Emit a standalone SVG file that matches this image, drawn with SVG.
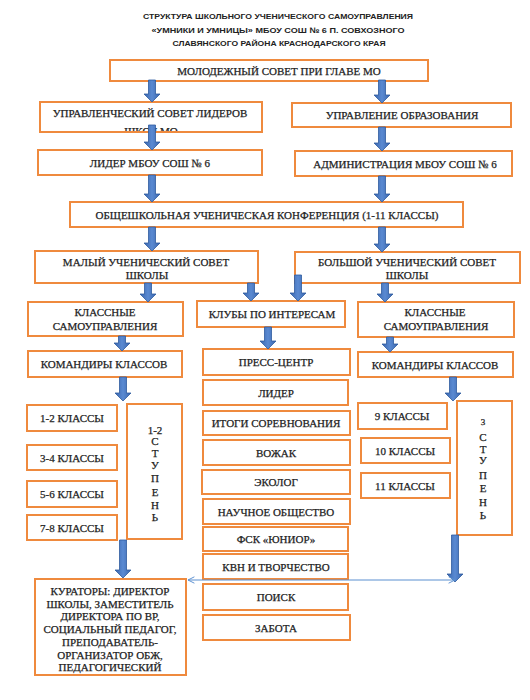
<svg xmlns="http://www.w3.org/2000/svg" width="530" height="700" viewBox="0 0 530 700">
<defs>
<style>
.b{fill:#fff;stroke:#EF8A3E;stroke-width:2}
.t{font-family:"Liberation Serif","Times New Roman",serif;font-size:11px;fill:#1e1e1e;stroke:#1e1e1e;stroke-width:0.25;text-anchor:middle}
.h{font-family:"Liberation Sans",Arial,sans-serif;font-size:8px;font-weight:bold;fill:#222;text-anchor:middle}
.a{fill:url(#ag);stroke:#2F5C9E;stroke-width:0.8}
.ln{stroke:#5B8FD0;stroke-width:1;fill:none}
</style>
<linearGradient id="ag" x1="0" y1="0" x2="1" y2="0">
<stop offset="0" stop-color="#3A66AE"/>
<stop offset="0.5" stop-color="#5A8AD2"/>
<stop offset="1" stop-color="#3A66AE"/>
</linearGradient>
<marker id="oa" viewBox="0 0 10 10" refX="9" refY="5" markerWidth="8" markerHeight="8" orient="auto-start-reverse" markerUnits="userSpaceOnUse">
<path d="M1 1 L9 5 L1 9" fill="none" stroke="#5B8FD0" stroke-width="1.2"/>
</marker>
<clipPath id="c2"><rect x="40" y="102" width="222" height="29"/></clipPath>
</defs>

<g id="title">
<text class="h" x="278" y="19" textLength="270" lengthAdjust="spacingAndGlyphs">СТРУКТУРА ШКОЛЬНОГО УЧЕНИЧЕСКОГО САМОУПРАВЛЕНИЯ</text>
<text class="h" x="278" y="33" textLength="253" lengthAdjust="spacingAndGlyphs">«УМНИКИ И УМНИЦЫ» МБОУ СОШ  № 6 П. СОВХОЗНОГО</text>
<text class="h" x="279" y="46" textLength="213" lengthAdjust="spacingAndGlyphs">СЛАВЯНСКОГО РАЙОНА КРАСНОДАРСКОГО КРАЯ</text>
</g>

<g id="n1"><rect class="b" x="110" y="60" width="318" height="21"/><text class="t" x="279" y="75">МОЛОДЕЖНЫЙ СОВЕТ ПРИ ГЛАВЕ МО</text></g>
<g id="n2"><rect class="b" x="40" y="102" width="222" height="30"/><g clip-path="url(#c2)"><text class="t" x="150" y="117">УПРАВЛЕНЧЕСКИЙ СОВЕТ ЛИДЕРОВ</text><text class="t" x="151" y="135">ШКОЛ МО</text></g></g>
<g id="n3"><rect class="b" x="292" y="103" width="219" height="24"/><text class="t" x="402" y="119">УПРАВЛЕНИЕ ОБРАЗОВАНИЯ</text></g>
<g id="n4"><rect class="b" x="38" y="150" width="224" height="25"/><text class="t" x="150" y="167">ЛИДЕР МБОУ СОШ  № 6</text></g>
<g id="n5"><rect class="b" x="295" y="151" width="217" height="25"/><text class="t" x="405" y="168">АДМИНИСТРАЦИЯ МБОУ СОШ  № 6</text></g>
<g id="n6"><rect class="b" x="70" y="202" width="393" height="25"/><text class="t" x="267" y="219">ОБЩЕШКОЛЬНАЯ УЧЕНИЧЕСКАЯ КОНФЕРЕНЦИЯ (1-11 КЛАССЫ)</text></g>
<g id="n7"><rect class="b" x="35" y="251" width="223" height="32"/><text class="t" x="146" y="266">МАЛЫЙ УЧЕНИЧЕСКИЙ СОВЕТ</text><text class="t" x="147" y="279">ШКОЛЫ</text></g>
<g id="n8"><rect class="b" x="295" y="252" width="225" height="31"/><text class="t" x="407" y="266">БОЛЬШОЙ УЧЕНИЧЕСКИЙ СОВЕТ</text><text class="t" x="407" y="279">ШКОЛЫ</text></g>
<g id="n9"><rect class="b" x="28" y="302" width="155" height="34"/><text class="t" x="105" y="316">КЛАССНЫЕ</text><text class="t" x="105" y="330">САМОУПРАВЛЕНИЯ</text></g>
<g id="n10"><rect class="b" x="197" y="301" width="148" height="26"/><text class="t" x="272" y="318">КЛУБЫ ПО ИНТЕРЕСАМ</text></g>
<g id="n11"><rect class="b" x="358" y="302" width="156" height="35"/><text class="t" x="435" y="316">КЛАССНЫЕ</text><text class="t" x="436" y="330">САМОУПРАВЛЕНИЯ</text></g>
<g id="n12"><rect class="b" x="28" y="351" width="154" height="26"/><text class="t" x="104" y="368">КОМАНДИРЫ КЛАССОВ</text></g>
<g id="n13"><rect class="b" x="203" y="349" width="147" height="26"/><text class="t" x="276" y="366">ПРЕСС-ЦЕНТР</text></g>
<g id="n14"><rect class="b" x="358" y="352" width="155" height="25"/><text class="t" x="435" y="369">КОМАНДИРЫ КЛАССОВ</text></g>

<g id="n15"><rect class="b" x="27" y="405" width="90" height="26"/><text class="t" x="72" y="422">1-2 КЛАССЫ</text></g>
<g id="n16"><rect class="b" x="27" y="445" width="90" height="25"/><text class="t" x="72" y="462">3-4 КЛАССЫ</text></g>
<g id="n17"><rect class="b" x="27" y="481" width="90" height="26"/><text class="t" x="72" y="498">5-6 КЛАССЫ</text></g>
<g id="n18"><rect class="b" x="27" y="515" width="90" height="25"/><text class="t" x="72" y="532">7-8 КЛАССЫ</text></g>
<g id="n19"><rect class="b" x="127" y="404" width="55" height="135"/>
<text class="t" x="155" y="434">1-2</text><text class="t" x="155" y="445">С</text><text class="t" x="155" y="457">Т</text><text class="t" x="155" y="469">У</text><text class="t" x="155" y="482">П</text><text class="t" x="155" y="496">Е</text><text class="t" x="155" y="509">Н</text><text class="t" x="155" y="521">Ь</text></g>

<g id="n20"><rect class="b" x="203" y="380" width="145" height="25"/><text class="t" x="276" y="397">ЛИДЕР</text></g>
<g id="n21"><rect class="b" x="203" y="411" width="147" height="24"/><text class="t" x="276" y="427">ИТОГИ СОРЕВНОВАНИЯ</text></g>
<g id="n22"><rect class="b" x="203" y="440" width="147" height="25"/><text class="t" x="276" y="457">ВОЖАК</text></g>
<g id="n23"><rect class="b" x="202" y="470" width="148" height="24"/><text class="t" x="276" y="486">ЭКОЛОГ</text></g>
<g id="n24"><rect class="b" x="203" y="499" width="147" height="25"/><text class="t" x="276" y="516">НАУЧНОЕ ОБЩЕСТВО</text></g>
<g id="n25"><rect class="b" x="203" y="527" width="145" height="24"/><text class="t" x="276" y="543">ФСК «ЮНИОР»</text></g>
<g id="n26"><rect class="b" x="203" y="554" width="145" height="25"/><text class="t" x="276" y="571">КВН И ТВОРЧЕСТВО</text></g>
<g id="n27"><rect class="b" x="203" y="584" width="145" height="26"/><text class="t" x="276" y="601">ПОИСК</text></g>
<g id="n28"><rect class="b" x="203" y="615" width="147" height="25"/><text class="t" x="276" y="632">ЗАБОТА</text></g>

<g id="n29"><rect class="b" x="358" y="403" width="89" height="26"/><text class="t" x="402" y="420">9 КЛАССЫ</text></g>
<g id="n30"><rect class="b" x="361" y="438" width="89" height="25"/><text class="t" x="405" y="455">10 КЛАССЫ</text></g>
<g id="n31"><rect class="b" x="361" y="473" width="89" height="25"/><text class="t" x="405" y="490">11 КЛАССЫ</text></g>
<g id="n32"><rect class="b" x="457" y="401" width="55" height="134"/>
<text class="t" x="483" y="425" style="font-size:9px">3</text><text class="t" x="483" y="441">С</text><text class="t" x="483" y="453">Т</text><text class="t" x="483" y="464">У</text><text class="t" x="483" y="479">П</text><text class="t" x="483" y="492">Е</text><text class="t" x="483" y="506">Н</text><text class="t" x="483" y="519">Ь</text></g>

<g id="n33"><rect class="b" x="35" y="579" width="151" height="96"/>
<text class="t" x="110" y="595">КУРАТОРЫ: ДИРЕКТОР</text>
<text class="t" x="110" y="607.7">ШКОЛЫ, ЗАМЕСТИТЕЛЬ</text>
<text class="t" x="110" y="620.4">ДИРЕКТОРА ПО ВР,</text>
<text class="t" x="110" y="633.1">СОЦИАЛЬНЫЙ ПЕДАГОГ,</text>
<text class="t" x="110" y="645.8">ПРЕПОДАВАТЕЛЬ-</text>
<text class="t" x="110" y="658.5">ОРГАНИЗАТОР ОБЖ,</text>
<text class="t" x="110" y="671.2">ПЕДАГОГИЧЕСКИЙ</text></g>

<g id="connectors">
<path class="a" d="M148.5 80 H155.5 V94 H160 L152 102 L144 94 H148.5 Z"/>
<path class="a" d="M378.5 80 H385.5 V95 H390 L382 103 L374 95 H378.5 Z"/>
<path class="a" d="M148.5 125 H155.5 V142 H160 L152 150 L144 142 H148.5 Z"/>
<path class="a" d="M378.5 127 H385.5 V143 H390 L382 151 L374 143 H378.5 Z"/>
<path class="a" d="M148.5 175 H155.5 V194 H160 L152 202 L144 194 H148.5 Z"/>
<path class="a" d="M378.5 176 H385.5 V194 H390 L382 202 L374 194 H378.5 Z"/>
<path class="a" d="M148.5 227 H155.5 V243 H160 L152 251 L144 243 H148.5 Z"/>
<path class="a" d="M378.5 227 H385.5 V244 H390 L382 252 L374 244 H378.5 Z"/>
<path class="a" d="M144.5 283 H151.5 V294 H156 L148 302 L140 294 H144.5 Z"/>
<path class="a" d="M247.5 283 H254.5 V293 H259 L251 301 L243 293 H247.5 Z"/>
<path class="a" d="M294.5 275 H301.5 V293 H306 L298 301 L290 293 H294.5 Z"/>
<path class="a" d="M381.5 283 H388.5 V294 H393 L385 302 L377 294 H381.5 Z"/>
<path class="a" d="M118.5 336 H125.5 V343 H130 L122 351 L114 343 H118.5 Z"/>
<path class="a" d="M264.5 327 H271.5 V341 H276 L268 349 L260 341 H264.5 Z"/>
<path class="a" d="M386.5 337 H393.5 V344 H398 L390 352 L382 344 H386.5 Z"/>
<path class="a" d="M119.5 377 H126.5 V393 H131 L123 401 L115 393 H119.5 Z"/>
<path class="a" d="M449.5 377 H456.5 V393 H461 L453 401 L445 393 H449.5 Z"/>
<path class="a" d="M119.5 540 H126.5 V570 H131 L123 578 L115 570 H119.5 Z"/>
<path class="a" d="M451.5 535 H458.5 V574 H463 L455 582 L447 574 H451.5 Z"/>
<line class="ln" x1="188" y1="580" x2="455" y2="580" marker-start="url(#oa)" marker-end="url(#oa)"/>
</g>
</svg>
